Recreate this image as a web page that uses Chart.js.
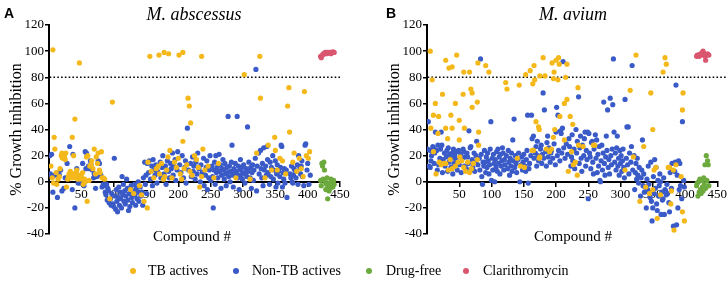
<!DOCTYPE html>
<html><head><meta charset="utf-8">
<script src="https://cdn.jsdelivr.net/npm/chart.js@4/dist/chart.umd.min.js"></script>
<style>
body{margin:0;background:#fff;}
#wrap{position:relative;width:728px;height:284px;overflow:hidden;font-family:'Liberation Serif','Times New Roman',serif;color:#000;}
canvas{position:absolute;top:0;}
.t{position:absolute;white-space:nowrap;}
.ttl{font-style:italic;font-size:18px;line-height:20px;top:4px;transform:translateX(-50%);}
.pl{font-family:'Liberation Sans',Arial,sans-serif;font-weight:bold;font-size:14px;line-height:16px;top:5px;}
.xt{font-size:15px;line-height:18px;top:227px;transform:translateX(-50%);}
.lg{font-size:14px;line-height:16px;top:263px;}
.dot{position:absolute;width:6px;height:6px;border-radius:50%;top:268px;}
</style></head>
<body><div id="wrap">
<canvas id="cA" width="364" height="250" style="left:0;width:364px;height:250px"></canvas>
<canvas id="cB" width="364" height="250" style="left:364px;width:364px;height:250px"></canvas>
<div class="t pl" style="left:4px">A</div>
<div class="t pl" style="left:386px">B</div>
<div class="t ttl" style="left:194px">M. abscessus</div>
<div class="t ttl" style="left:573px">M. avium</div>
<div class="t xt" style="left:192px">Compound #</div>
<div class="t xt" style="left:573px">Compound #</div>
<div id="legend"></div>
</div>
<script>
// ---------- data ----------
const seriesNames = ['TB actives','Non-TB actives','Drug-free','Clarithromycin'];
const seriesColors = ['#F4B81A','#3A5BC7','#6DAA3E','#DA566F'];
const xTicks = [50,100,150,200,250,300,350,400,450];
const yTicks = [-40,-20,0,20,40,60,80,100,120];
const threshold = 80;

// Panel A: M. abscessus  [compound #, % growth inhibition]
const absTB = [[6,101],[47,91],[40,48],[8,34],[36,34],[98,61],[156,96],[170,97],[178,99],[185,98],[201,97],[207,99],[236,96],[215,64],[217,58],[219,45],[207,31],[302,82],[326,96],[327,64],[349,34],[371,72],[369,58],[372,38],[395,69],
[3,12],[5,3],[7,-1],[9,25],[11,7],[12,-2],[14,2],[16,4],[17,10],[19,20],[20,22],[21,18],[22,21],[24,19],[25,17],[26,22],[27,-4],[29,2],[30,4],[31,6],[33,8],[35,3],[37,6],[38,20],[39,5],[41,3],[42,7],[43,9],[44,5],[45,2],[46,4],[48,5],[49,3],[50,4],[51,2],[52,7],[53,-2],[55,2],[56,0],[58,19],[59,-15],[60,20],[62,1],[63,12],[65,13],[66,16],[68,10],[70,25],[72,6],[73,19],[75,14],[76,22],[78,9],[79,7],[81,23],[82,3],[84,3],[86,2],
[94,-13],[126,-6],[131,-9],[143,-10],[147,-15],[152,-20],[140,-3],
[153,15],[158,8],[162,3],[166,10],[169,12],[171,6],[174,14],[177,2],[179,4],[182,9],[184,19],[187,24],[190,3],[194,15],[197,11],[200,18],[203,6],[205,2],[209,10],[213,13],[218,8],[221,5],[225,20],[228,17],[231,11],[233,-4],[236,4],[238,25],[241,9],[246,12],[255,3],[262,14],
[289,3],[311,2],[321,22],[334,3],[339,28],[344,9],[350,24],[353,9],[357,18],[361,16],[366,6],[377,15],[379,22],[383,8],[387,18],[390,10],[393,4],[398,20],[401,18],[403,23]];
const absNonTB = [[1,20],[2,6],[4,21],[4,5],[6,-8],[10,5],[13,-12],[15,7],[16,5],[18,9],[20,-7],[23,-5],[25,3],[28,14],[32,27],[34,5],[36,-6],[37,21],[40,-20],[43,10],[45,-1],[48,-1],[52,14],[54,-3],[56,23],[57,10],[58,22],[61,12],[62,10],[64,16],[65,13],[67,9],[69,3],[70,6],[72,-5],[74,4],[76,16],[78,14],[80,5],[82,-4],[84,-2],
[86,-3],[87,-8],[88,-10],[89,-2],[90,-14],[91,-5],[92,-7],[93,-16],[95,-13],[96,-18],[97,-9],[99,-17],[100,-19],[101,18],[102,-11],[103,-21],[104,-6],[105,-15],[106,-23],[107,-12],[108,-4],[109,-18],[110,-8],[111,-13],[112,-20],[113,4],[114,-10],[115,-2],[116,-15],[117,-7],[118,-17],[119,-11],[120,2],[121,-5],[122,-14],[123,-22],[124,-9],[125,-19],[127,-3],[128,-12],[129,-16],[130,-7],[132,-2],[133,-10],[134,-18],[135,-5],[136,-13],[137,-8],[138,0],[139,-15],[141,-4],[142,-11],[144,-8],[145,-18],[146,3],[148,15],[149,-2],[150,5],[151,-9],
[152,14],[154,7],[155,16],[157,2],[159,12],[160,-3],[161,17],[163,9],[164,5],[165,13],[167,-1],[168,8],[172,15],[173,3],[175,11],[176,20],[178,6],[180,12],[181,-2],[183,16],[185,8],[186,3],[188,14],[189,10],[191,22],[192,5],[193,12],[195,17],[196,1],[198,9],[199,23],[202,13],[204,7],[206,20],[208,3],[210,11],[211,16],[212,-1],[214,41],[216,9],[219,14],[220,4],[222,19],[223,8],[224,12],[226,2],[227,15],[229,6],[230,22],[232,10],[234,0],[235,13],[237,7],[239,18],[240,-3],[242,5],[243,11],[244,16],[245,-6],[247,3],[248,9],[249,20],[250,1],[254,-20],
[252,12],[253,4],[255,9],[256,15],[257,-2],[258,20],[259,7],[260,11],[261,3],[263,21],[264,8],[265,13],[266,-5],[267,5],[268,10],[269,17],[270,9],[271,2],[272,14],[273,6],[274,-3],[275,11],[276,7],[277,50],[278,4],[279,12],[280,0],[281,8],[282,15],[283,28],[284,5],[285,-4],[286,10],[287,6],[288,14],[289,8],[290,6],[291,50],[292,3],[293,12],[294,-6],[295,9],[296,17],[297,5],[298,11],[299,2],[300,7],[301,13],[303,-1],[304,6],[305,10],[306,4],[307,42],[308,8],[309,15],[311,3],[312,11],[313,-5],[314,7],[315,13],[316,1],[317,9],[319,18],[320,86],[321,-7],[322,12],[324,22],[325,6],[327,24],[328,10],[329,3],[330,14],[331,-3],[332,26],[333,9],[335,12],[336,5],[337,27],[338,17],[339,7],[341,-2],[342,15],[343,4],[344,11],[346,20],[347,2],[348,9],[350,16],[351,-4],[352,6],[353,13],[354,-1],[355,8],[357,4],[358,11],[359,28],[360,27],[361,-4],[362,7],[363,2],[364,10],[365,-1],[367,9],[368,-12],[373,6],[374,3],[375,12],[376,0],[377,-1],[378,5],[379,10],[381,8],[382,3],[384,13],[385,-2],[386,20],[388,11],[389,6],[390,12],[391,16],[392,4],[394,-3],[396,28],[397,29],[399,9],[400,14],[402,-2],[404,5]];
const absDrugFree = [[420,1],[421,-3],[422,14],[423,12],[424,2],[425,15],[426,9],[427,0],[428,-6],[429,-2],[430,3],[431,-13],[432,-4],[433,-7],[434,-1],[435,-5],[436,2],[437,-3],[438,0],[439,-4],[440,1],[441,-2]];
const absClari = [[420,96],[421,95],[423,97],[424,98],[426,98],[427,99],[429,98],[430,99],[432,98.5],[433,99],[435,99],[436,98],[438,99],[439,99.5],[441,99]];

// Panel B: M. avium
const aviTB = [[5,100],[8,78],[10,51],[13,60],[6,41],[18,50],[17,37],[24,67],[29,93],[34,87],[39,88],[29,41],[32,33],[37,51],[39,41],[44,60],[46,97],[50,47],[50,32],[56,67],[57,84],[58,41],[66,84],[68,71],[70,68],[70,57],[78,61],[79,91],[80,38],[91,89],[96,84],[122,76],[124,71],[143,74],[153,82],[160,85],[166,89],[164,75],[167,78],[169,46],[173,42],[174,40],[180,95],[175,81],[183,81],[196,79],[194,91],[197,84],[200,93],[204,95],[205,90],[203,78],[206,50],[198,40],[196,34],[213,60],[217,63],[215,80],[217,90],[213,32],[222,50],[226,44],[234,72],[315,70],[324,97],[347,68],[350,40],[369,95],[371,90],[366,84],[396,55],[397,68],
[10,23],[14,6],[19,15],[22,13],[26,14],[29,14],[33,9],[36,17],[39,10],[44,12],[48,15],[51,19],[54,16],[57,11],[60,8],[63,15],[66,7],[69,10],[72,14],[78,17],[80,28],[140,18],[145,12],[151,11],[163,24],[165,24],[174,18],[175,19],[185,25],[190,23],[193,25],[219,8],[224,23],[227,13],[230,15],[233,5],[235,28],[242,27],[258,28],[260,28],[307,9],[320,19],[336,27],[330,-15],[339,-4],[345,-9],[350,-6],[352,9],[355,11],[357,-28],[362,-10],[374,11],[376,11],[378,-17],[379,-7],[382,9],[383,-37],[386,13],[394,4],[396,-23],[399,-30]];
const aviNonTB = [[1,25],[2,46],[3,12],[4,24],[5,11],[6,16],[7,20],[9,27],[10,26],[11,14],[12,22],[13,38],[15,24],[16,9],[17,28],[18,13],[20,18],[21,25],[22,38],[23,28],[24,7],[25,17],[27,22],[28,12],[30,19],[31,24],[32,8],[33,26],[34,15],[35,21],[37,11],[38,18],[39,22],[40,6],[41,25],[42,14],[43,20],[45,17],[46,23],[47,9],[49,24],[50,13],[52,21],[53,7],[55,18],[56,25],[57,23],[58,12],[59,19],[61,10],[62,22],[63,19],[64,14],[65,39],[67,26],[68,27],[70,17],[71,11],[73,22],[74,8],[75,15],[76,20],[77,31],[79,13],[81,18],[82,9],[83,94],[84,21],[85,4],[86,-2],[87,15],[88,12],[89,24],[90,15],[91,7],[92,19],[93,11],[94,22],[95,16],[96,6],[97,13],[98,25],[99,46],[100,1],[101,18],[102,9],[103,21],[104,14],[105,0],[106,17],[107,11],[108,23],[109,8],[110,25],[111,14],[112,19],[113,6],[114,21],[115,12],[116,16],[117,26],[118,22],[119,9],[120,17],[121,13],[123,20],[125,10],[126,24],[127,15],[128,5],[129,18],[130,12],[131,22],[132,8],[133,32],[134,16],[135,48],[136,11],[137,20],[138,14],[139,7],[141,17],[142,22],[144,0],[146,13],[147,19],[148,9],[149,15],[150,21],[152,12],[153,8],[154,17],[155,24],[156,51],[157,-1],[158,10],[159,14],[161,20],
[162,51],[163,33],[164,24],[165,35],[166,18],[168,22],[169,27],[170,12],[171,31],[172,20],[173,16],[176,25],[177,28],[178,14],[179,21],[180,68],[181,18],[182,55],[184,23],[185,12],[186,30],[187,35],[188,19],[189,26],[191,15],[192,22],[193,24],[195,18],[197,29],[199,13],[200,38],[201,57],[202,20],[203,51],[204,24],[206,16],[207,39],[208,37],[209,22],[210,41],[211,92],[212,26],[214,18],[216,29],[218,21],[220,33],[221,27],[223,12],[224,19],[225,36],[226,16],[228,25],[229,10],[231,40],[232,22],[233,31],[235,65],[236,14],[237,26],[238,35],[239,18],[240,8],[241,28],[243,20],[244,33],[245,38],[246,12],[247,24],[248,17],[249,38],[250,-13],[251,37],[252,22],[253,19],[254,10],[255,30],[256,31],[257,15],[258,6],[259,25],[261,36],[262,18],[263,32],[264,7],[265,21],[266,12],[267,27],[268,1],[269,0],[270,16],[271,28],[272,9],[273,22],[274,61],[275,14],[276,5],[277,19],[278,35],[279,24],[280,55],[281,11],[282,17],[283,6],[284,64],[285,20],[286,13],[287,25],[288,59],[289,94],[290,38],[291,15],[292,22],[293,9],[294,26],[295,35],[296,12],[297,18],[298,5],[299,24],[300,14],
[301,20],[302,8],[303,16],[304,25],[305,11],[306,3],[307,63],[309,18],[310,42],[311,13],[312,42],[313,6],[314,22],[316,15],[317,27],[318,89],[319,9],[321,20],[322,-6],[323,7],[324,14],[325,2],[326,18],[327,5],[328,-1],[329,11],[331,-11],[332,3],[333,9],[334,32],[335,-3],[336,6],[337,-8],[338,-4],[340,-20],[341,2],[342,-6],[343,12],[344,-2],[346,-12],[347,15],[348,-15],[349,-30],[350,-20],[351,4],[352,-9],[353,17],[354,-5],[355,11],[356,-17],[357,-22],[358,1],[359,-11],[360,-3],[361,6],[362,0],[363,-25],[364,-8],[365,-14],[366,-13],[367,3],[368,-25],[369,-6],[370,-7],[371,-10],[372,-2],[373,-9],[375,-16],[376,-23],[377,7],[379,-5],[380,14],[382,-34],[384,8],[385,15],[386,74],[387,-33],[388,5],[389,-20],[390,16],[391,-6],[392,14],[393,-3],[395,-13],[396,46],[398,1],[399,-4]];
const aviDrugFree = [[418,-3],[419,-1],[420,-11],[421,0],[422,-8],[423,2],[424,-6],[425,-9],[426,1],[427,-4],[428,-7],[429,3],[430,-2],[431,13],[432,-5],[433,20],[434,1],[435,16],[436,13],[437,-3]];
const aviClari = [[418,96],[419,97],[421,97],[422,96],[424,98],[425,97],[427,99],[428,100],[430,98],[431,96],[432,93],[434,97],[435,98],[437,97]];

// ---------- chart ----------
const serif = "'Liberation Serif','Times New Roman',serif";
const toXY = a => a.map(p => ({x:p[0], y:p[1]}));

function makeChart(id, groups, opt){
  const ds = groups.map((g,i) => ({
    type:'scatter', label:seriesNames[i], data:toXY(g),
    backgroundColor:seriesColors[i], borderWidth:0, pointRadius:2.6, pointHoverRadius:2.6
  }));
  ds.push({type:'line', label:'threshold', data:[{x:opt.lineFrom,y:threshold},{x:opt.lineTo,y:threshold}],
    borderColor:'#000', borderWidth:1.6, borderDash:[1.6,2.2], pointRadius:0, fill:false, clip:false});
  return new Chart(document.getElementById(id), {
    data:{datasets:ds},
    options:{
      responsive:false, animation:false, events:[],
      layout:{padding:{left:0, top:25, right:opt.padRight, bottom:16}},
      plugins:{legend:{display:false}, tooltip:{enabled:false}},
      scales:{
        x:{type:'linear', min:0, max:450, position:{y:0},
           afterBuildTicks: s => { s.ticks = xTicks.map(v => ({value:v})); },
           ticks:{autoSkip:false, maxRotation:0, padding:1, color:'#000', font:{family:serif,size:13}},
           grid:{drawOnChartArea:false, drawTicks:true, tickLength:4, color:'#000', lineWidth:1.5},
           border:{display:true, color:'#000', width:2}},
        y:{type:'linear', min:-40, max:120,
           afterBuildTicks: s => { s.ticks = yTicks.map(v => ({value:v})); },
           afterFit: s => { s.width = opt.yWidth; },
           ticks:{padding:1, color:'#000', font:{family:serif,size:13}},
           grid:{drawOnChartArea:false, drawTicks:true, tickLength:4, color:'#000', lineWidth:1.5},
           border:{display:true, color:'#000', width:2},
           title:{display:true, text:'% Growth inhibition', color:'#000', font:{family:serif,size:16}, padding:{top:opt.titlePad,bottom:0}}}
      }
    }
  });
}
makeChart('cA', [absTB, absNonTB, absDrugFree, absClari], {yWidth:49, padRight:24, titlePad:7, lineFrom:1, lineTo:450});
makeChart('cB', [aviTB, aviNonTB, aviDrugFree, aviClari], {yWidth:63, padRight:10, titlePad:21, lineFrom:1, lineTo:465});

// legend
const lgPos = [[130,148],[233,252],[366,386],[463,483]];
const lg = document.getElementById('legend');
seriesNames.forEach((n,i) => {
  const d = document.createElement('div'); d.className='dot';
  d.style.left = lgPos[i][0]+'px'; d.style.background = seriesColors[i]; lg.appendChild(d);
  const t = document.createElement('div'); t.className='t lg'; t.style.left = lgPos[i][1]+'px';
  t.textContent = n; lg.appendChild(t);
});
</script>
</body></html>
